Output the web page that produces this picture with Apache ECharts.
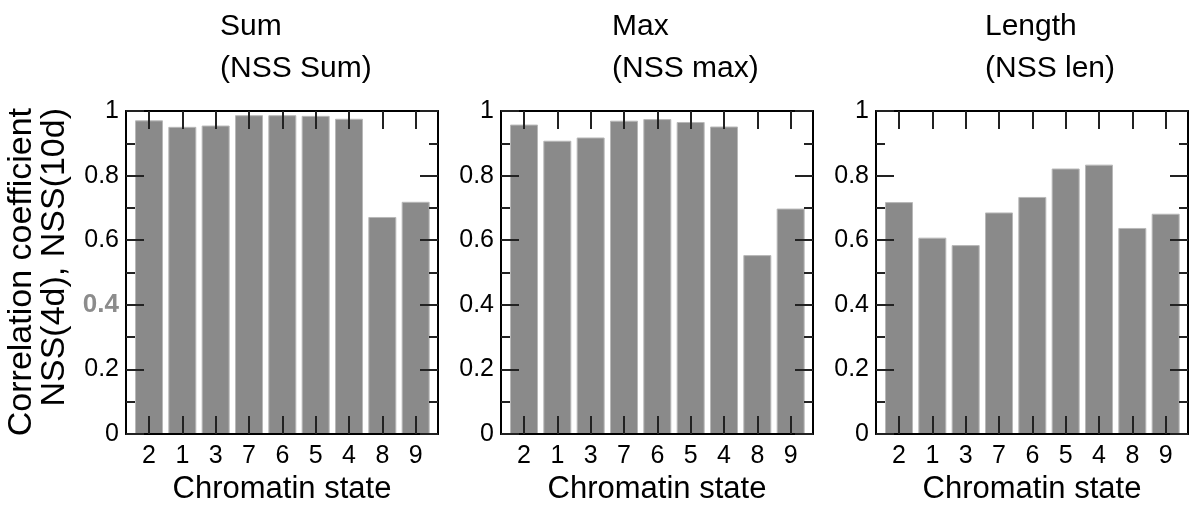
<!DOCTYPE html>
<html>
<head>
<meta charset="utf-8">
<script src="https://cdn.jsdelivr.net/npm/echarts@6/dist/echarts.min.js"></script>
<style>html,body{margin:0;padding:0;background:#fff}#c{width:1190px;height:510px}</style>
</head>
<body>
<div id="c"></div>
<script>
const categories = ['2', '1', '3', '7', '6', '5', '4', '8', '9'];
const sumValues = [0.971, 0.951, 0.955, 0.987, 0.987, 0.985, 0.976, 0.672, 0.719];
const maxValues = [0.958, 0.908, 0.918, 0.970, 0.975, 0.966, 0.952, 0.554, 0.698];
const lenValues = [0.718, 0.608, 0.585, 0.686, 0.734, 0.822, 0.834, 0.638, 0.682];
const panelTitles = ['Sum\n(NSS Sum)', 'Max\n(NSS max)', 'Length\n(NSS len)'];
const xAxisName = 'Chromatin state';
const yAxisName = 'Correlation coefficient\nNSS(4d), NSS(10d)';

const FONT = '"Liberation Sans", Arial, Helvetica, sans-serif';
const panels = [sumValues, maxValues, lenValues];
const gridLefts = [126, 501, 876];
const titleLefts = [220, 612, 985];
const tickPos = categories.map((c, k) => k + 1);
const fmt = v => (Math.abs(v) < 1e-9 ? '0' : Math.abs(v - 1) < 1e-9 ? '1' : v.toFixed(1));

const grid = [], xAxis = [], yAxis = [], series = [], title = [];
panels.forEach((vals, i) => {
  grid.push({ left: gridLefts[i], top: 111, width: 312, height: 332 });
  title.push({ text: panelTitles[i], left: titleLefts[i], top: 6, padding: 0,
    textStyle: { fontFamily: FONT, fontSize: 30, fontWeight: 'normal', color: '#000', lineHeight: 42 } });
  const lineStyle = { color: '#000', width: 2 };
  const tickStyle = { color: '#222', width: 2 };
  ['bottom', 'top'].forEach(pos => {
    xAxis.push({
      type: 'value', gridIndex: i, position: pos, min: 0.31, max: 9.67, z: 10,
      axisLine: { show: true, onZero: false, lineStyle },
      axisTick: { show: true, inside: true, length: 18, lineStyle: tickStyle, customValues: tickPos },
      axisLabel: { show: pos === 'bottom', customValues: tickPos, margin: 10, fontSize: 25, color: '#000', fontFamily: FONT,
        formatter: v => categories[Math.round(v) - 1] },
      splitLine: { show: false },
      name: pos === 'bottom' ? xAxisName : '', nameLocation: 'middle', nameGap: 30,
      nameTextStyle: { fontSize: 31, color: '#000', fontFamily: FONT }
    });
  });
  ['left', 'right'].forEach(pos => {
    yAxis.push({
      type: 'value', gridIndex: i, position: pos, min: 0, max: 1, interval: 0.2, z: 10,
      axisLine: { show: true, onZero: false, lineStyle },
      axisTick: { show: true, inside: true, length: 18, lineStyle: tickStyle },
      minorTick: { show: true, splitNumber: 2, length: 9, lineStyle: tickStyle },
      axisLabel: { show: pos === 'left', margin: 7, fontSize: 25, color: '#000', fontFamily: FONT,
        formatter: v => (i === 0 && Math.abs(v - 0.4) < 1e-9 ? '{b|0.4}' : fmt(v)),
        rich: { b: { fontWeight: 'bold', color: '#8c8c8c', fontSize: 26, fontFamily: FONT } } },
      splitLine: { show: false }, minorSplitLine: { show: false }
    });
  });
  series.push({
    type: 'bar', xAxisIndex: 2 * i, yAxisIndex: 2 * i, barWidth: 28,
    itemStyle: { color: '#8a8a8a', borderColor: '#b8b8b8', borderWidth: 1 },
    data: vals.map((v, k) => [k + 1, v])
  });
});

const chart = echarts.init(document.getElementById('c'), null, { renderer: 'canvas' });
chart.setOption({
  animation: false,
  backgroundColor: '#fff',
  title, grid, xAxis, yAxis, series,
  graphic: [{
    type: 'text', x: 5, y: 108, rotation: Math.PI / 2,
    style: { text: yAxisName, fontFamily: FONT, fontSize: 34, lineHeight: 33, fill: '#000', align: 'right', verticalAlign: 'top' }
  }]
});
</script>
</body>
</html>
